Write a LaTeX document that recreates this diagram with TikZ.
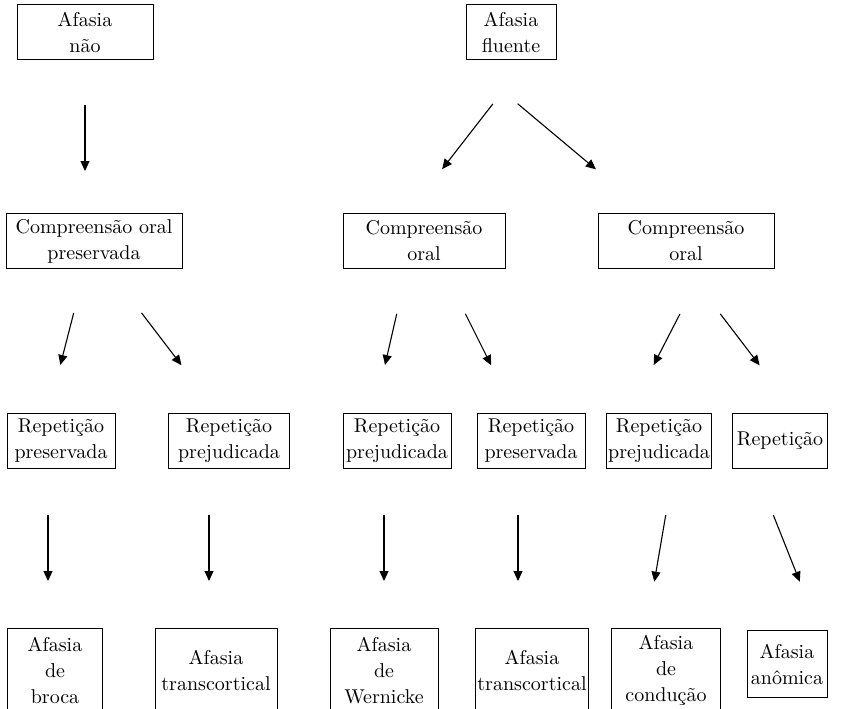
\documentclass[tikz,border=0pt]{standalone}
\usetikzlibrary{arrows.meta}

\begin{document}
\begin{tikzpicture}[x=0.5pt, y=-0.5pt,
  caixa/.style={draw, line width=0.5pt, align=center, inner sep=1pt,
    minimum height=27.5pt, font=\fontsize{10}{13}\selectfont},
  seta/.style={-{Triangle[length=5pt,width=4.5pt]}, line width=0.55pt,
    shorten <=23pt, shorten >=23.5pt}]
  \clip (0,0) rectangle (849,708);

  \node[caixa, minimum width=68pt] (nao) at (85,32) {Afasia\\não};
  \node[caixa, minimum width=45pt] (fluente) at (511,32) {Afasia\\fluente};

  \node[caixa, minimum width=88pt] (compA) at (94,241) {Compreensão oral\\preservada};
  \node[caixa, minimum width=81pt] (compB) at (424,241) {Compreensão\\oral};
  \node[caixa, minimum width=88pt] (compC) at (686,241) {Compreensão\\oral};

  \node[caixa, minimum width=54pt] (rep1) at (61,441) {Repetição\\preservada};
  \node[caixa, minimum width=60.5pt] (rep2) at (229,441) {Repetição\\prejudicada};
  \node[caixa, minimum width=54pt] (rep3) at (397,441) {Repetição\\prejudicada};
  \node[caixa, minimum width=54pt] (rep4) at (531,441) {Repetição\\preservada};
  \node[caixa, minimum width=48pt] (rep5) at (659,441) {Repetição\\prejudicada};
  \node[caixa, minimum width=47.5pt] (rep6) at (780,441) {Repetição};

  \node[caixa, anchor=north, minimum width=47.5pt, minimum height=42pt] (af1) at (55,628) {Afasia\\de\\broca};
  \node[caixa, anchor=north, minimum width=61pt, minimum height=42pt] (af2) at (216,628) {Afasia\\transcortical};
  \node[caixa, anchor=north, minimum width=54pt, minimum height=42pt] (af3) at (384,628) {Afasia\\de\\Wernicke};
  \node[caixa, anchor=north, minimum width=54pt, minimum height=42pt] (af4) at (532,628) {Afasia\\transcortical};
  \node[caixa, anchor=north, minimum width=54.5pt, minimum height=42pt] (af5) at (666,628) {Afasia\\de\\condução};
  \node[caixa, anchor=north, minimum width=40pt, minimum height=33.5pt] (af6) at (787,630) {Afasia\\anômica};

  \draw[seta, shorten <=22.5pt, shorten >=21pt] (nao.south) -- (nao.south |- compA.north);
  \draw[seta, shorten <=27.8pt, shorten >=27.8pt] ([xshift=8pt]fluente.south) -- ([xshift=-8pt]compB.north);
  \draw[seta, shorten <=34pt, shorten >=34pt] (fluente.south west) -- ([xshift=-19pt]compC.north);

  \draw[seta, shorten <=22.7pt, shorten >=24.8pt] ([xshift=-4.5pt]compA.south) -- ([xshift=-6.5pt]rep1.north);
  \draw[seta, shorten <=27.6pt, shorten >=30.1pt] ([xshift=7pt]compA.south) -- ([xshift=-5.5pt]rep2.north);
  \draw[seta, shorten <=23pt, shorten >=24.6pt] ([xshift=-8.5pt]compB.south) -- ([xshift=-11.5pt]rep3.north);
  \draw[seta, shorten <=25pt, shorten >=26.7pt] ([xshift=9.5pt]compB.south) -- ([xshift=-8pt]rep4.north);
  \draw[seta, shorten <=25.3pt, shorten >=27pt] ([xshift=8.5pt]compC.south) -- ([xshift=-15pt]rep5.north);
  \draw[seta, shorten <=28.2pt, shorten >=30pt] (compC.south) -- ([xshift=8pt]rep6.north);

  \draw[seta] ([xshift=-6.5pt]rep1.south) -- ([xshift=-3.5pt]af1.north);
  \draw[seta] ([xshift=-10pt]rep2.south) -- ([xshift=-3.5pt]af2.north);
  \draw[seta] ([xshift=-6.5pt]rep3.south) -- (af3.north);
  \draw[seta] ([xshift=-6.5pt]rep4.south) -- ([xshift=-7pt]af4.north);
  \draw[seta, shorten <=23.3pt, shorten >=23.5pt] ([xshift=7.3pt]rep5.south) -- ([xshift=-9.8pt]af5.north);
  \draw[seta, shorten <=24.8pt, shorten >=26pt] ([xshift=-12.5pt]rep6.south) -- ([xshift=16pt]af6.north);

\end{tikzpicture}
\end{document}
